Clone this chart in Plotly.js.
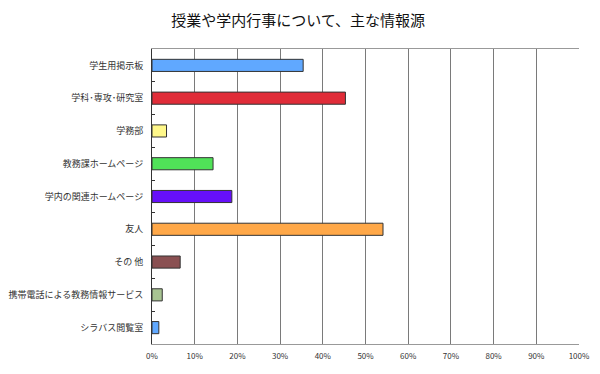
<!DOCTYPE html>
<html>
<head>
<meta charset="utf-8">
<script src="https://cdn.plot.ly/plotly-3.0.1.min.js"></script>
<style>html,body{margin:0;padding:0;background:#fff;}#chart{width:600px;height:374px;}</style>
</head>
<body>
<div id="chart"></div>
<script>
const categories = ["学生用掲示板","学科･専攻･研究室","学務部","教務課ホームページ","学内の関連ホームページ","友人","その 他","携帯電話による教務情報サービス","シラバス閲覧室"];
const values = [35.4, 45.3, 3.4, 14.3, 18.7, 54.1, 6.6, 2.4, 1.6];
const colors = ["#60a8ff","#e02c38","#fff88a","#50e258","#6610fa","#ffa848","#8a5052","#a8c492","#60a8ff"];
const xTickVals = [0,10,20,30,40,50,60,70,80,90,100];
const xTickText = ["0%","10%","20%","30%","40%","50%","60%","70%","80%","90%","100%"];

const font = "Noto Sans CJK JP, sans-serif";
Plotly.newPlot("chart", [{
  type: "bar",
  orientation: "h",
  y: categories,
  x: values,
  width: 0.37,
  marker: {color: colors, line: {color: "#333333", width: 1}},
  hoverinfo: "none"
}], {
  width: 600, height: 374,
  margin: {l: 152, r: 21, t: 49, b: 30},
  paper_bgcolor: "#fff", plot_bgcolor: "#fff",
  showlegend: false,
  title: {text: "授業や学内行事について、主な情報源", x: 0.497, xanchor: "center", y: 0.945, yanchor: "middle", font: {family: font, size: 15, color: "#111"}},
  xaxis: {
    range: [0, 100], tickvals: xTickVals, ticktext: xTickText,
    showgrid: true, gridcolor: "#7a7a7a", gridwidth: 1,
    showline: true, linecolor: "#999", mirror: true, linewidth: 1,
    ticks: "", zeroline: false,
    tickfont: {family: font, size: 8, color: "#333"}, ticklabelstandoff: 4, fixedrange: true
  },
  yaxis: {
    autorange: "reversed", type: "category",
    showgrid: false, showline: true, linecolor: "#333", linewidth: 1,
    ticks: "inside", tickson: "boundaries", ticklen: 3, tickcolor: "#333",
    tickfont: {family: font, size: 9, color: "#333"}, ticklabelstandoff: 6, fixedrange: true
  }
}, {displayModeBar: false, staticPlot: true});
</script>
</body>
</html>
